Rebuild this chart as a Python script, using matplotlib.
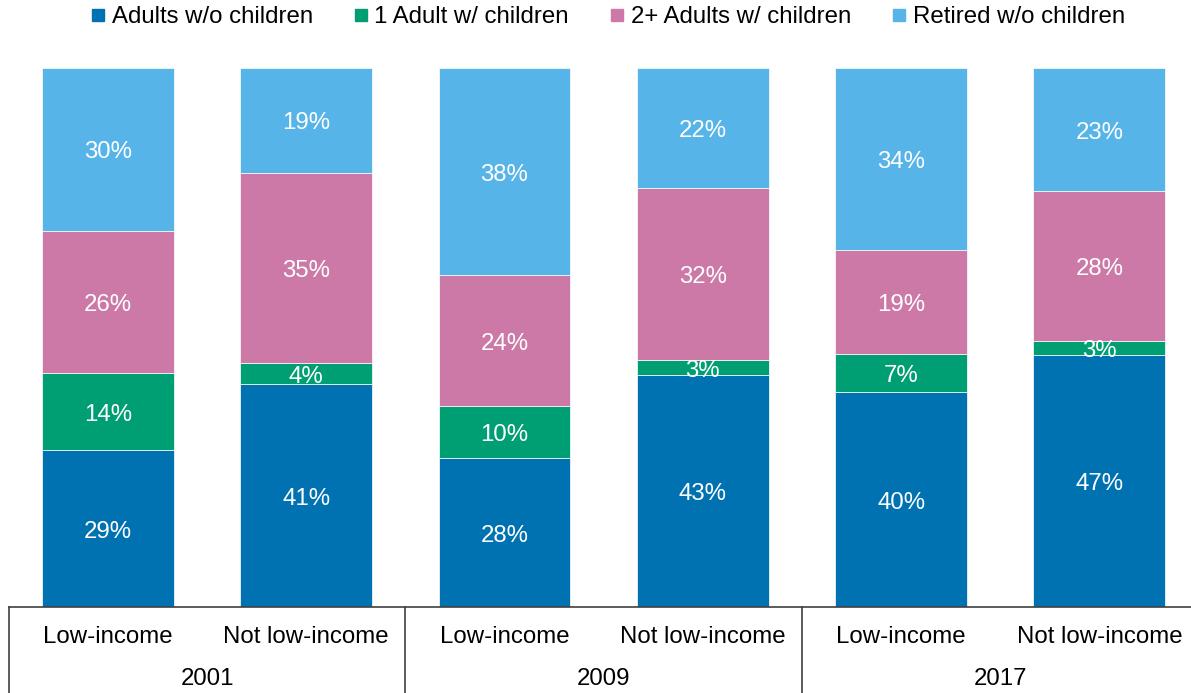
import matplotlib
matplotlib.use("Agg")
import matplotlib.pyplot as plt
from matplotlib.lines import Line2D
from matplotlib.transforms import blended_transform_factory

plt.rcParams["font.family"] = ["Liberation Sans", "DejaVu Sans"]

# Household composition by income status (% of households)
bar_labels = ["Low-income", "Not low-income"] * 3
years = ["2001", "2009", "2017"]
series_names = ["Adults w/o children", "1 Adult w/ children",
                "2+ Adults w/ children", "Retired w/o children"]
adults_no_children = [29.1, 41.3, 27.6, 43.0, 39.9, 46.8]
one_adult_children = [14.3, 3.9, 9.6, 2.8, 7.0, 2.6]
two_adults_children = [26.4, 35.4, 24.4, 31.9, 19.3, 27.8]
retired_no_children = [30.2, 19.4, 38.4, 22.3, 33.8, 22.8]
colors = ["#0072B2", "#009E73", "#CC79A7", "#56B4E9"]

series = [adults_no_children, one_adult_children,
          two_adults_children, retired_no_children]

FS = 17.3
W, H = 1191, 693
fig = plt.figure(figsize=(W / 100, H / 100), dpi=100)
left, right, bottom, top = 8.8, 1198.5, 607, 68
ax = fig.add_axes([left / W, 1 - bottom / H, (right - left) / W, (bottom - top) / H])

x = list(range(len(bar_labels)))
base = [0.0] * len(x)
for vals, name, col in zip(series, series_names, colors):
    bars = ax.bar(x, vals, width=0.665, bottom=base, color=col,
                  edgecolor="white", linewidth=0.5, label=name)
    labels = ["%.0f%%" % v for v in vals]
    texts = ax.bar_label(bars, labels=labels, label_type="center",
                         color="white", fontsize=FS)
    for t in texts:
        t.xyann = (0, -2.2)
    base = [b + v for b, v in zip(base, vals)]

ax.set_xlim(-0.5, len(x) - 0.5)
ax.set_ylim(0, 100)
ax.set_yticks([])
ax.set_xticks([])
for s in ["top", "right", "left"]:
    ax.spines[s].set_visible(False)
ax.spines["bottom"].set_color("#404040")
ax.spines["bottom"].set_linewidth(1.2)

# Two-level category axis
tr = blended_transform_factory(ax.transData, ax.transAxes)
for xi, lab in zip(x, bar_labels):
    ax.text(xi, -0.0555, lab, transform=tr, ha="center", va="center",
            fontsize=FS, color="black")
for g, yr in enumerate(years):
    ax.text(2 * g + 0.5, -0.1345, yr, transform=tr, ha="center", va="center",
            fontsize=FS, color="black")
for sep in [-0.5, 1.5, 3.5, 5.5]:
    ax.plot([sep, sep], [0, -0.2], transform=tr, color="#404040",
            linewidth=1.2, clip_on=False)

handles = [Line2D([], [], marker="s", linestyle="none", markersize=8.8,
                  markerfacecolor=c, markeredgecolor=c) for c in colors]
fig.legend(handles, series_names, loc="center", ncol=4,
           bbox_to_anchor=(0.5 * (92 + 1124) / W, 1 - 17 / H), frameon=False,
           fontsize=FS, handlelength=0.6, handletextpad=0.25,
           columnspacing=1.72, borderaxespad=0, borderpad=0)

fig.savefig("out.png", dpi=100)
